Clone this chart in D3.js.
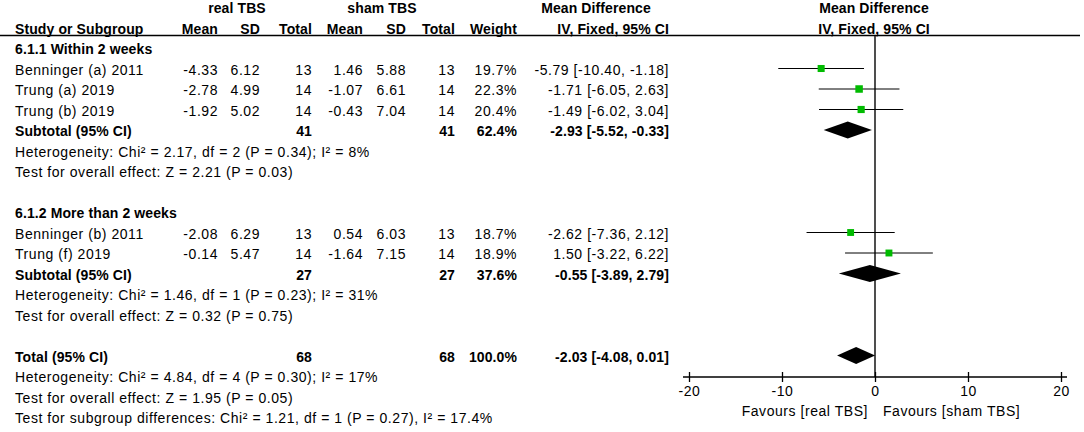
<!DOCTYPE html>
<html lang="en">
<head>
<meta charset="utf-8">
<title>Forest plot - real vs sham TBS</title>
<script src="https://d3js.org/d3.v7.min.js"></script>
<style>
body { margin: 0; background: #fff; }
svg text { font-family: "Liberation Sans", Arial, sans-serif; font-size: 14px; letter-spacing: 0.55px; fill: #000; }
svg text.b { font-weight: bold; letter-spacing: 0.1px; }
</style>
</head>
<body>
<div id="chart"></div>
<script>
// study level data
var studyNames = ["Benninger (a) 2011", "Trung (a) 2019", "Trung (b) 2019", "Benninger (b) 2011", "Trung (f) 2019"];
var studyGroup = [0, 0, 0, 1, 1];
var realMean = ["-4.33", "-2.78", "-1.92", "-2.08", "-0.14"];
var realSD = ["6.12", "4.99", "5.02", "6.29", "5.47"];
var realN = [13, 14, 14, 13, 14];
var shamMean = ["1.46", "-1.07", "-0.43", "0.54", "-1.64"];
var shamSD = ["5.88", "6.61", "7.04", "6.03", "7.15"];
var shamN = [13, 14, 14, 13, 14];
var weights = [19.7, 22.3, 20.4, 18.7, 18.9];
var md = [-5.79, -1.71, -1.49, -2.62, 1.50];
var ciLo = [-10.40, -6.05, -6.02, -7.36, -3.22];
var ciHi = [-1.18, 2.63, 3.04, 2.12, 6.22];

// subgroups
var groupTitles = ["6.1.1 Within 2 weeks", "6.1.2 More than 2 weeks"];
var subRealN = [41, 27];
var subShamN = [41, 27];
var subWeight = [62.4, 37.6];
var subMD = [-2.93, -0.55];
var subLo = [-5.52, -3.89];
var subHi = [-0.33, 2.79];
var subHet = ["Heterogeneity: Chi\u00b2 = 2.17, df = 2 (P = 0.34); I\u00b2 = 8%",
              "Heterogeneity: Chi\u00b2 = 1.46, df = 1 (P = 0.23); I\u00b2 = 31%"];
var subTest = ["Test for overall effect: Z = 2.21 (P = 0.03)",
               "Test for overall effect: Z = 0.32 (P = 0.75)"];

// overall
var totalN = [68, 68];
var totalWeight = 100.0;
var totalMD = -2.03, totalLo = -4.08, totalHi = 0.01;
var totalNotes = ["Heterogeneity: Chi\u00b2 = 4.84, df = 4 (P = 0.30); I\u00b2 = 17%",
                  "Test for overall effect: Z = 1.95 (P = 0.05)",
                  "Test for subgroup differences: Chi\u00b2 = 1.21, df = 1 (P = 0.27), I\u00b2 = 17.4%"];

var ticks = [-20, -10, 0, 10, 20];
var favours = ["Favours [real TBS]", "Favours [sham TBS]"];

var width = 1084, height = 432;

var svg = d3.select("#chart").append("svg")
    .attr("width", width)
    .attr("height", height);

var x = d3.scaleLinear().domain([-20, 20]).range([689, 1061]);
var y = d3.scaleLinear().domain([0, 20]).range([8, 418]);

// column right edges (left text starts at 15)
var col = { rMean: 218, rSD: 260, rN: 312, sMean: 363, sSD: 406, sN: 455, w: 517, ci: 669 };

function fmtCI(m, lo, hi) {
    return m.toFixed(2) + " [" + lo.toFixed(2) + ", " + hi.toFixed(2) + "]";
}

function txt(str, xx, row, anchor, bold) {
    svg.append("text")
        .attr("x", xx)
        .attr("y", y(row))
        .attr("dy", "0.36em")
        .attr("text-anchor", anchor || "start")
        .attr("class", bold ? "b" : null)
        .text(str);
}

// header
txt("real TBS", 237, 0, "middle", true);
txt("sham TBS", 382, 0, "middle", true);
txt("Mean Difference", 596, 0, "middle", true);
txt("Mean Difference", 874, 0, "middle", true);
txt("Study or Subgroup", 15, 1, "start", true);
txt("Mean", col.rMean, 1, "end", true);
txt("SD", col.rSD, 1, "end", true);
txt("Total", col.rN, 1, "end", true);
txt("Mean", col.sMean, 1, "end", true);
txt("SD", col.sSD, 1, "end", true);
txt("Total", col.sN, 1, "end", true);
txt("Weight", col.w, 1, "end", true);
txt("IV, Fixed, 95% CI", col.ci, 1, "end", true);
txt("IV, Fixed, 95% CI", 874, 1, "middle", true);

svg.append("line")
    .attr("x1", 0).attr("x2", 1080)
    .attr("y1", 35.5).attr("y2", 35.5)
    .attr("stroke", "#000").attr("stroke-width", 1.5);

// build row list
var studyRows = [], subRows = [];
var row = 2;
groupTitles.forEach(function (g, gi) {
    txt(g, 15, row, "start", true);
    row++;
    studyNames.forEach(function (s, i) {
        if (studyGroup[i] !== gi) return;
        studyRows.push({ i: i, row: row });
        row++;
    });
    subRows.push({ g: gi, row: row });
    row += 4; // subtotal, heterogeneity, test, blank
});
var totalRow = row;

var zeroTop = 36, axisY = 377;

// line of no effect
svg.append("line")
    .attr("x1", x(0)).attr("x2", x(0))
    .attr("y1", zeroTop).attr("y2", axisY)
    .attr("stroke", "#222").attr("stroke-width", 1.6);

studyRows.forEach(function (d) {
    var i = d.i;
    txt(studyNames[i], 15, d.row);
    txt(realMean[i], col.rMean, d.row, "end");
    txt(realSD[i], col.rSD, d.row, "end");
    txt(realN[i], col.rN, d.row, "end");
    txt(shamMean[i], col.sMean, d.row, "end");
    txt(shamSD[i], col.sSD, d.row, "end");
    txt(shamN[i], col.sN, d.row, "end");
    txt(weights[i].toFixed(1) + "%", col.w, d.row, "end");
    txt(fmtCI(md[i], ciLo[i], ciHi[i]), col.ci, d.row, "end");

    var cy = y(d.row) - 1;
    svg.append("line")
        .attr("x1", x(ciLo[i])).attr("x2", x(ciHi[i]))
        .attr("y1", cy).attr("y2", cy)
        .attr("stroke", "#000").attr("stroke-width", 1);
    var s = 7.5 * Math.sqrt(weights[i] / 22.3);
    svg.append("rect")
        .attr("x", x(md[i]) - s / 2).attr("y", cy - s / 2)
        .attr("width", s).attr("height", s)
        .attr("fill", "#00bb00");
});

function diamond(m, lo, hi, cy) {
    var h = 8.5;
    svg.append("path")
        .attr("d", "M" + x(lo) + "," + cy + "L" + x(m) + "," + (cy - h) +
                   "L" + x(hi) + "," + cy + "L" + x(m) + "," + (cy + h) + "Z")
        .attr("fill", "#000");
}

subRows.forEach(function (d) {
    var g = d.g;
    txt("Subtotal (95% CI)", 15, d.row, "start", true);
    txt(subRealN[g], col.rN, d.row, "end", true);
    txt(subShamN[g], col.sN, d.row, "end", true);
    txt(subWeight[g].toFixed(1) + "%", col.w, d.row, "end", true);
    txt(fmtCI(subMD[g], subLo[g], subHi[g]), col.ci, d.row, "end", true);
    txt(subHet[g], 15, d.row + 1);
    txt(subTest[g], 15, d.row + 2);
    diamond(subMD[g], subLo[g], subHi[g], y(d.row) - 1);
});

txt("Total (95% CI)", 15, totalRow, "start", true);
txt(totalN[0], col.rN, totalRow, "end", true);
txt(totalN[1], col.sN, totalRow, "end", true);
txt(totalWeight.toFixed(1) + "%", col.w, totalRow, "end", true);
txt(fmtCI(totalMD, totalLo, totalHi), col.ci, totalRow, "end", true);
totalNotes.forEach(function (n, k) { txt(n, 15, totalRow + 1 + k); });
diamond(totalMD, totalLo, totalHi, y(totalRow) - 1);

// axis
var axis = svg.append("g")
    .attr("transform", "translate(0," + axisY + ")")
    .call(d3.axisBottom(x).tickValues(ticks).tickSize(5).tickSizeOuter(0)
        .tickFormat(function (d) { return String(d); }));
axis.select(".domain").remove();
axis.selectAll(".tick line").attr("y1", -5).attr("y2", 5).attr("stroke", "#000").attr("stroke-width", 1.3);
axis.selectAll(".tick text").attr("y", 9).attr("font-size", null).attr("font-family", null);
axis.append("line")
    .attr("x1", x(-20) - 6).attr("x2", x(20) + 6)
    .attr("stroke", "#000").attr("stroke-width", 1.5);

svg.append("text").attr("x", x(0) - 7).attr("y", 411).attr("dy", "0.36em")
    .attr("text-anchor", "end").text(favours[0]);
svg.append("text").attr("x", x(0) + 8).attr("y", 411).attr("dy", "0.36em")
    .attr("text-anchor", "start").text(favours[1]);
</script>
</body>
</html>
